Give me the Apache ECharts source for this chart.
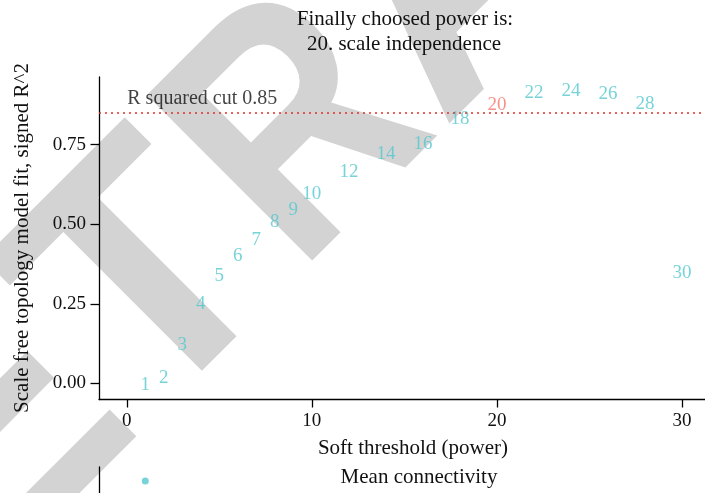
<!DOCTYPE html>
<html>
<head>
<meta charset="utf-8">
<script src="https://cdn.jsdelivr.net/npm/echarts@6/dist/echarts.min.js"></script>
<style>
html,body{margin:0;padding:0;background:#fff;}
#chart{width:705px;height:493px;}
</style>
</head>
<body>
<div id="chart"></div>
<script>
// ---- data ----
var powers = [1,2,3,4,5,6,7,8,9,10,12,14,16,18,20,22,24,26,28,30];
var signedR2 = [-0.006,0.016,0.121,0.250,0.338,0.399,0.452,0.506,0.544,0.596,0.665,0.720,0.753,0.832,0.874,0.912,0.918,0.909,0.878,0.346];
var chosenPower = 20;
var rCut = 0.85;
var rCutLabel = 'R squared cut 0.85';
var rCutLabelPos = [0, 0.895];
var xTicks = [0,10,20,30];
var yTicks = [0,0.25,0.5,0.75];
var meanConnPowers = [1];
var meanConnValues = [953];
var titleLines = ['Finally choosed power is:', '20. scale independence'];
var xName = 'Soft threshold (power)';
var yName = 'Scale free topology model fit, signed R^2';
var panel2Title = 'Mean connectivity';
// watermark letters of "RETRACTED" that fall inside the picture
var wmLetters = ['E', 'T', 'R', 'A'];

var CYAN = '#55c8cd';
var RED = '#f8766d';
var FONT = '"Liberation Serif", "DejaVu Serif", serif';
var TRANSPARENT = 'rgba(0,0,0,0)';

var chart = echarts.init(document.getElementById('chart'), null, {renderer:'canvas'});

var labelData = powers.map(function(p, i){
  var isChosen = p === chosenPower;
  return {
    value: [p, signedR2[i]],
    label: {color: isChosen ? RED : CYAN}
  };
});

// watermark layout (decoration): letters along a 45 degree baseline
var WM_F = 340, WM_ROT = 0.785, WM_T = 311.2;
var wmS = [-425.4, -198.6, 18, 222];
var wmSX = [1, 1, 0.82, 1];
var c45 = Math.cos(WM_ROT), s45 = Math.sin(WM_ROT);
var wmGraphics = wmLetters.map(function(ch, i){
  var s = wmS[i], t = WM_T;
  return {type:'text', x: c45*s + s45*t, y: -s45*s + c45*t, rotation: WM_ROT, scaleX: wmSX[i], z:-10, silent:true,
    style:{text:ch, font:'bold '+WM_F+'px "Liberation Sans", Arial, sans-serif', fill:'#d3d3d3', textAlign:'left', textVerticalAlign:'middle'}};
});

var axisLineStyle = {color:'#000', width:1.3};

var option = {
  backgroundColor:'#fff',
  animation:false,
  graphic: wmGraphics.concat([
    {type:'text', x:405, y:19, z:10, style:{text:titleLines[0], font:'21px '+FONT, fill:'#111', textAlign:'center', textVerticalAlign:'middle'}},
    {type:'text', x:404, y:44, z:10, style:{text:titleLines[1], font:'21px '+FONT, fill:'#111', textAlign:'center', textVerticalAlign:'middle'}},
    {type:'text', x:413, y:448, z:10, style:{text:xName, font:'21px '+FONT, fill:'#111', textAlign:'center', textVerticalAlign:'middle'}},
    {type:'text', x:22, y:238, rotation:Math.PI/2, z:10, style:{text:yName, font:'21px '+FONT, fill:'#111', textAlign:'center', textVerticalAlign:'middle'}},
    {type:'text', x:419, y:477, z:10, style:{text:panel2Title, font:'21px '+FONT, fill:'#111', textAlign:'center', textVerticalAlign:'middle'}}
  ]),
  grid:[
    {left:99, right:0, top:77, bottom:93.5, outerBoundsMode:'none', containLabel:false},
    {left:99, right:0, top:467, height:300, outerBoundsMode:'none', containLabel:false}
  ],
  xAxis:[
    {type:'value', gridIndex:0, min:-1.5, max:31.24,
     splitLine:{show:false},
     axisLine:{show:true, onZero:false, lineStyle:axisLineStyle},
     axisTick:{show:true, length:8, lineStyle:{color:'#000', width:1.3}, customValues:xTicks},
     axisLabel:{show:true, margin:12, color:'#111', fontFamily:FONT, fontSize:19, customValues:xTicks}
    },
    {type:'value', gridIndex:1, min:-1.5, max:31.24, show:false}
  ],
  yAxis:[
    {type:'value', gridIndex:0, min:-0.051, max:0.963,
     splitLine:{show:false},
     axisLine:{show:true, onZero:false, lineStyle:axisLineStyle},
     axisTick:{show:true, length:8.5, lineStyle:{color:'#000', width:1.3}, customValues:yTicks},
     axisLabel:{show:true, margin:13, color:'#111', fontFamily:FONT, fontSize:19, customValues:yTicks,
       formatter:function(v){return v.toFixed(2);}}
    },
    {type:'value', gridIndex:1, min:0, max:1000,
     splitLine:{show:false},
     axisLine:{show:true, onZero:false, lineStyle:axisLineStyle},
     axisTick:{show:false}, axisLabel:{show:false}
    }
  ],
  series:[
    {type:'scatter', xAxisIndex:0, yAxisIndex:0, symbolSize:1,
     itemStyle:{color:TRANSPARENT},
     label:{show:true, position:'inside', fontFamily:FONT, fontSize:19,
       formatter:function(p){return String(p.value[0]);}},
     emphasis:{disabled:true},
     data:labelData,
     markLine:{silent:true, symbol:'none', label:{show:false},
       lineStyle:{color:'#e0302a', type:[2,4], width:1.5},
       data:[{yAxis:rCut}]}
    },
    {type:'scatter', xAxisIndex:0, yAxisIndex:0, symbolSize:1,
     itemStyle:{color:TRANSPARENT},
     label:{show:true, position:'right', distance:0, fontFamily:FONT, fontSize:20, color:'#111',
       formatter:function(){return rCutLabel;}},
     emphasis:{disabled:true},
     data:[rCutLabelPos]
    },
    {type:'scatter', xAxisIndex:1, yAxisIndex:1, symbol:'circle', symbolSize:7,
     itemStyle:{color:CYAN},
     clip:false,
     data:meanConnPowers.map(function(p,i){return [p, meanConnValues[i]];})
    }
  ]
};
chart.setOption(option);
</script>
</body>
</html>
